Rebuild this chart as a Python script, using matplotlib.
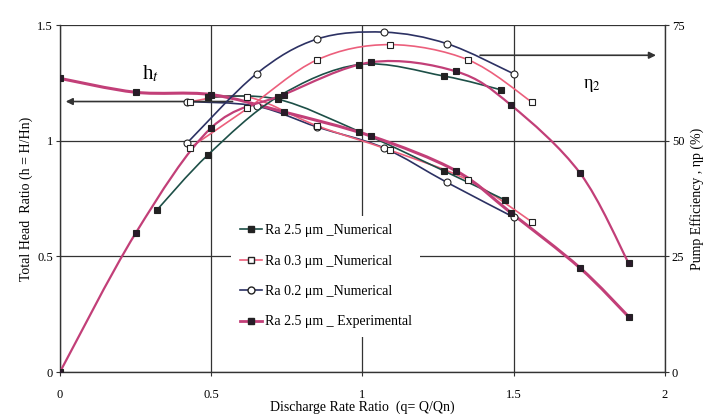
import matplotlib
matplotlib.use("Agg")
import matplotlib.pyplot as plt
import numpy as np
from matplotlib.path import Path
from matplotlib.patches import PathPatch
from matplotlib.lines import Line2D

plt.rcParams['font.family'] = ['Liberation Serif', 'DejaVu Serif']
plt.rcParams['mathtext.fontset'] = 'stix'

# ---- data ----
# head ratio h (left axis)
q_exp = [0, 0.25, 0.50, 0.74, 1.03, 1.31, 1.49, 1.72, 1.88]
h_exp = [1.27, 1.21, 1.20, 1.125, 1.02, 0.87, 0.69, 0.45, 0.24]
q_n25_h = [0.49, 0.72, 0.99, 1.27, 1.47]
h_n25 = [1.19, 1.18, 1.04, 0.87, 0.745]
q_n03 = [0.43, 0.62, 0.85, 1.09, 1.35, 1.56]
h_n03 = [1.17, 1.19, 1.065, 0.96, 0.83, 0.65]
q_n02 = [0.42, 0.65, 0.85, 1.07, 1.28, 1.50]
h_n02 = [1.17, 1.15, 1.06, 0.97, 0.82, 0.67]

# pump efficiency (right axis, %)
e_exp = [0, 30, 52.8, 60, 67, 65, 57.8, 43, 23.6]
q_n25_e = [0.32, 0.49, 0.72, 0.99, 1.27, 1.46]
e_n25 = [35, 47, 59.5, 66.5, 64, 61]
e_n03 = [48.5, 57, 67.5, 70.8, 67.5, 58.4]
e_n02 = [49.5, 64.5, 72, 73.5, 71, 64.5]

labels = ["Ra 2.5 \u03bcm _Numerical", "Ra 0.3 \u03bcm _Numerical",
          "Ra 0.2 \u03bcm _Numerical", "Ra 2.5 \u03bcm _ Experimental"]

c_n25 = '#1d4f47'
c_n03 = '#ec5f7c'
c_n02 = '#2c3163'
c_exp = '#c23f78'


def smooth_path(x, y):
    # excel-like smoothed line: catmull-rom segments as cubic beziers
    p = np.column_stack([x, y]).astype(float)
    pts = [p[0]]
    codes = [Path.MOVETO]
    n = len(p)
    for i in range(n - 1):
        p0 = p[i - 1] if i > 0 else p[i]
        p3 = p[i + 2] if i + 2 < n else p[i + 1]
        c1 = p[i] + (p[i + 1] - p0) / 6.0
        c2 = p[i + 1] - (p3 - p[i]) / 6.0
        pts += [c1, c2, p[i + 1]]
        codes += [Path.CURVE4] * 3
    return Path(pts, codes)


def draw(ax, x, y, color, lw, marker, mfc, ms):
    ax.add_patch(PathPatch(smooth_path(x, y), fc='none', ec=color, lw=lw,
                           transform=ax.transData, zorder=3))
    ax.plot(x, y, ls='none', marker=marker, mfc=mfc, mec='#222222',
            ms=ms, mew=0.8, zorder=4)


fig = plt.figure(figsize=(7.05, 4.2), dpi=100)
ax = fig.add_axes([0.085, 0.114, 0.858, 0.826])
ax2 = ax.twinx()

ax.set_xlim(0, 2)
ax.set_ylim(0, 1.5)
ax2.set_ylim(0, 75)
ax.set_xticks([0, 0.5, 1, 1.5, 2])
ax.set_xticklabels(['0', '0.5', '1', '1.5', '2'])
ax.set_yticks([0, 0.5, 1, 1.5])
ax.set_yticklabels(['0', '0.5', '1', '1.5'])
ax2.set_yticks([0, 25, 50, 75])
ax.grid(True, color='#333333', lw=0.9)
for a in (ax, ax2):
    for s in a.spines.values():
        s.set_visible(False)
    a.tick_params(labelsize=9, length=3, color='#333333', pad=2)
ax.tick_params(axis='x', pad=9)
ax.spines['left'].set_visible(True)
ax.spines['bottom'].set_visible(True)
ax2.spines['right'].set_visible(True)
for s in (ax.spines['left'], ax.spines['bottom'], ax2.spines['right']):
    s.set_color('#333333')
    s.set_linewidth(1.0)

# head curves
draw(ax, q_n02, h_n02, c_n02, 1.2, 'o', 'white', 5)
draw(ax, q_n03, h_n03, c_n03, 1.2, 's', 'white', 5)
draw(ax, q_n25_h, h_n25, c_n25, 1.2, 's', '#222222', 5)
draw(ax, q_exp, h_exp, c_exp, 2.2, 's', '#2a1a2a', 5)

# efficiency curves
draw(ax2, q_n02, e_n02, c_n02, 1.2, 'o', 'white', 5)
draw(ax2, q_n03, e_n03, c_n03, 1.2, 's', 'white', 5)
draw(ax2, q_n25_e, e_n25, c_n25, 1.2, 's', '#222222', 5)
draw(ax2, q_exp, e_exp, c_exp, 1.6, 's', '#2a1a2a', 5)

# arrows
ax.annotate('', xy=(0.01, 1.17), xytext=(0.58, 1.17),
            arrowprops=dict(arrowstyle='-|>', color='#333333', lw=1.2))
ax.text(0.30, 1.29, 'h$_t$', fontsize=15, ha='center', va='center')
ax2.annotate('', xy=(1.98, 68.5), xytext=(1.38, 68.5),
             arrowprops=dict(arrowstyle='-|>', color='#333333', lw=1.2))
ax2.text(1.76, 62, '\u03b7$_2$', fontsize=13, ha='center', va='center')

ax.set_xlabel('Discharge Rate Ratio  (q= Q/Qn)', fontsize=10, labelpad=0)
ax.set_ylabel('Total Head  Ratio (h = H/Hn)', fontsize=10, labelpad=3)
ax2.set_ylabel('Pump Efficiency , \u03b7p (%)', fontsize=10, labelpad=4)

handles = [
    Line2D([], [], color=c_n25, lw=1.2, marker='s', mfc='#222222', mec='#222222', ms=5),
    Line2D([], [], color=c_n03, lw=1.2, marker='s', mfc='white', mec='#222222', ms=5),
    Line2D([], [], color=c_n02, lw=1.2, marker='o', mfc='white', mec='#222222', ms=5),
    Line2D([], [], color=c_exp, lw=2.0, marker='s', mfc='#2a1a2a', mec='#222222', ms=5),
]
leg = ax2.legend(handles, labels, loc='upper left', bbox_to_anchor=(0.272, 0.47),
                 frameon=True, fontsize=10, labelspacing=1.25, handlelength=1.6,
                 handletextpad=0.2, borderpad=0.6)
leg.get_frame().set_edgecolor('none')
leg.get_frame().set_facecolor('white')
leg.get_frame().set_alpha(1)
leg.set_zorder(10)

fig.savefig('out.png', dpi=100)
